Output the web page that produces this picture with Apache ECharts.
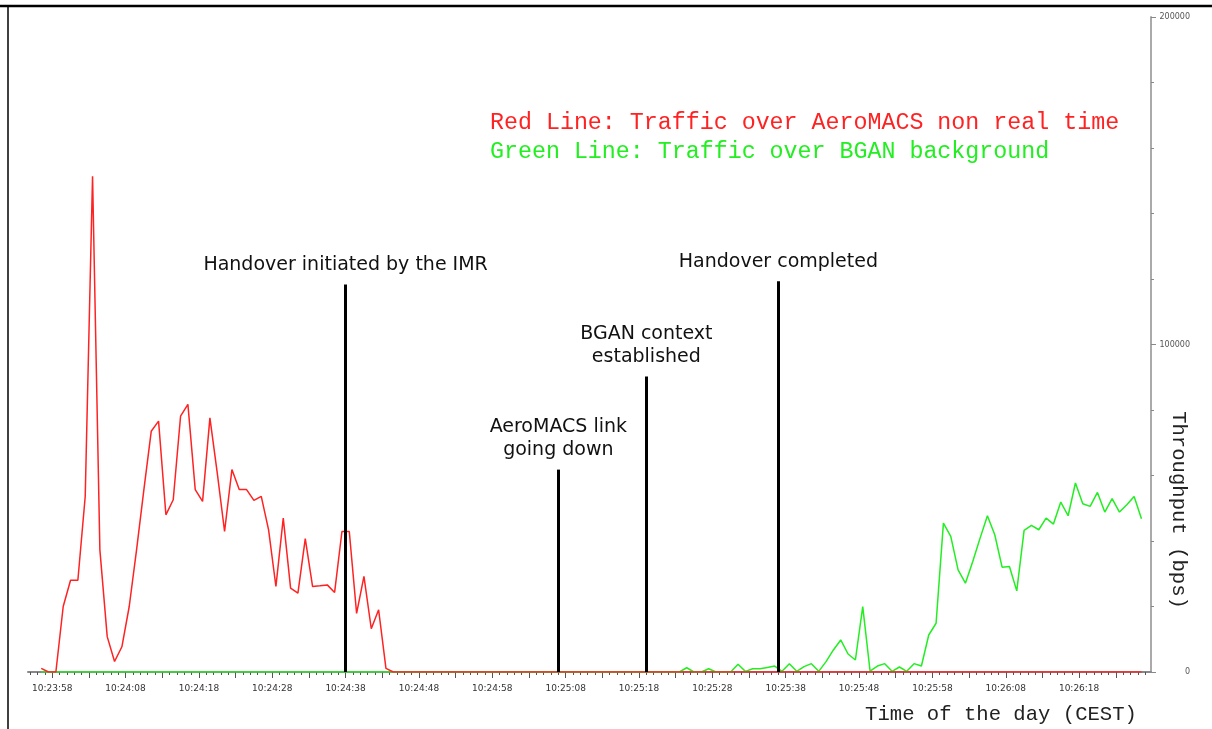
<!DOCTYPE html>
<html>
<head>
<meta charset="utf-8">
<title>Throughput during handover</title>
<style>
  html, body { margin: 0; padding: 0; background: #ffffff; }
  #chart { width: 1212px; height: 729px; }
</style>
<script src="https://cdn.jsdelivr.net/npm/echarts@6/dist/echarts.min.js"></script>
</head>
<body>
<div id="chart"></div>
<script>
// Temps en secondes depuis 10:23:58, un échantillon par seconde
const sampleStart = -1.5;

// AeroMACS non real time (bps)
const redValues = [
    1100, 0, 0, 20000, 28000, 28000, 53600, 151400, 37300, 10800,
    3200, 7700, 20000, 37300, 55700, 73500, 76600, 48000, 52600, 78100,
    81700, 55700, 52100, 77600, 60800, 42900, 61800, 55700, 55700, 52400,
    53600, 43400, 26100, 47000, 25600, 24100, 40700, 26100, 26300, 26600,
    24300, 42900, 42900, 17900, 29200, 13200, 19000, 1100, 0,
    0, 0, 0, 0, 0, 0, 0, 0, 0, 0, 0, 0, 0, 0, 0, 0, 0, 0, 0, 0,
    0, 0, 0, 0, 0, 0, 0, 0, 0, 0, 0, 0, 0, 0, 0, 0, 0, 0, 0, 0,
    0, 0, 0, 0, 0, 0, 0, 0, 0, 0, 0, 0, 0, 0, 0, 0, 0, 0, 0, 0,
    0, 0, 0, 0, 0, 0, 0, 0, 0, 0, 0, 0, 0, 0, 0, 0, 0, 0, 0, 0,
    0, 0, 0, 0, 0, 0, 0, 0, 0, 0, 0, 0, 0, 0, 0, 0, 0, 0, 0, 0,
    0, 0
];

// BGAN background (bps)
const greenValues = [
    0, 0, 0, 0, 0, 0, 0, 0, 0, 0, 0, 0, 0, 0, 0, 0, 0, 0, 0, 0,
    0, 0, 0, 0, 0, 0, 0, 0, 0, 0, 0, 0, 0, 0, 0, 0, 0, 0, 0, 0,
    0, 0, 0, 0, 0, 0, 0, 0, 0, 0, 0, 0, 0, 0, 0, 0, 0, 0, 0, 0,
    0, 0, 0, 0, 0, 0, 0, 0, 0, 0, 0, 0, 0, 0, 0, 0, 0, 0, 0, 0,
    0, 0, 0, 0, 0, 0, 0, 0,
    1300, 0, 0, 1000, 0, 0, 0, 2350, 200, 1000,
    1000, 1400, 1800, 200, 2550, 200, 1630, 2550, 200, 3160,
    6730, 9790, 5500, 3670, 19980, 300, 1830, 2550, 200, 1530,
    200, 2550, 1830, 11300, 14880, 45460, 41390, 31190, 27120, 33740,
    40880, 47710, 41900, 32010, 32210, 24770, 43220, 44750, 43430, 47000,
    45160, 51890, 47710, 57700, 51380, 50560, 54840, 48830, 52910, 48830,
    51070, 53620, 46790
];

// Étiquettes de l'axe des temps
const labelTimes = [0, 10, 20, 30, 40, 50, 60, 70, 80, 90, 100, 110, 120, 130, 140];
const labelTexts = ['10:23:58', '10:24:08', '10:24:18', '10:24:28', '10:24:38',
    '10:24:48', '10:24:58', '10:25:08', '10:25:18', '10:25:28',
    '10:25:38', '10:25:48', '10:25:58', '10:26:08', '10:26:18'];

// Événements (lignes verticales)
const eventTimes = [40, 69, 81, 99];
const eventTops = [118300, 61800, 90200, 119300];
const eventLabels = ['Handover initiated by the IMR', 'AeroMACS link\ngoing down',
    'BGAN context\nestablished', 'Handover completed'];

const legendTexts = ['Red Line: Traffic over AeroMACS non real time',
    'Green Line: Traffic over BGAN background'];

const xMin = -3.3, xMax = 149.8;

const majorTicks = [];
for (let t = 0; t <= xMax; t += 5) majorTicks.push(t);
const minorTicks = [];
for (let t = Math.ceil(xMin); t <= xMax; t++) minorTicks.push(t);

function toPairs(values) {
    return values.map((v, i) => [sampleStart + i, v]);
}

const annotationFont = {
    color: '#111',
    fontFamily: 'DejaVu Sans',
    fontSize: 19,
    lineHeight: 23
};

const chart = echarts.init(document.getElementById('chart'));
chart.setOption({
    animation: false,
    backgroundColor: '#ffffff',
    grid: {
        left: 28,
        right: 61,
        top: 17,
        bottom: 57,
        containLabel: false,
        outerBoundsMode: 'none'
    },
    xAxis: [{
        type: 'value',
        min: xMin,
        max: xMax,
        position: 'bottom',
        axisLine: { onZero: false, lineStyle: { color: '#888', width: 2 } },
        axisTick: { show: true, length: 6, customValues: majorTicks, lineStyle: { color: '#555' } },
        axisLabel: {
            customValues: labelTimes,
            margin: 12,
            color: '#333',
            fontSize: 9,
            fontFamily: 'DejaVu Sans',
            formatter: function (v) {
                const idx = labelTimes.indexOf(Math.round(v));
                return idx >= 0 ? labelTexts[idx] : '';
            }
        },
        splitLine: { show: false }
    }, {
        type: 'value',
        min: xMin,
        max: xMax,
        position: 'bottom',
        axisLine: { show: false, onZero: false },
        axisTick: { show: true, length: 3, customValues: minorTicks, lineStyle: { color: '#555' } },
        axisLabel: { show: false },
        splitLine: { show: false }
    }],
    yAxis: {
        type: 'value',
        position: 'right',
        min: 0,
        max: 200000,
        interval: 100000,
        axisLine: { show: true, onZero: false, lineStyle: { color: '#aaa', width: 2 } },
        axisTick: { show: true, length: 5, lineStyle: { color: '#888' } },
        minorTick: { show: true, splitNumber: 5, length: 3, lineStyle: { color: '#888' } },
        axisLabel: {
            align: 'right',
            margin: 39,
            color: '#555',
            fontSize: 8,
            fontFamily: 'DejaVu Sans',
            formatter: function (v) { return String(v); }
        },
        splitLine: { show: false }
    },
    series: [{
        name: 'BGAN background',
        type: 'line',
        data: toPairs(greenValues),
        showSymbol: false,
        lineStyle: { color: '#22ee22', width: 1.5 },
        itemStyle: { color: '#22ee22' },
        z: 2
    }, {
        name: 'AeroMACS non real time',
        type: 'line',
        data: toPairs(redValues),
        showSymbol: false,
        lineStyle: { color: '#ff2222', width: 1.5 },
        itemStyle: { color: '#ff2222' },
        z: 3,
        markLine: {
            silent: true,
            symbol: ['none', 'none'],
            lineStyle: { color: '#000', width: 3, type: 'solid' },
            label: Object.assign({ show: true, position: 'end', distance: 8, formatter: '{b}' }, annotationFont),
            data: eventTimes.map((t, i) => [
                { name: eventLabels[i], coord: [t, 0] },
                { coord: [t, eventTops[i]] }
            ])
        }
    }],
    graphic: [
        {
            type: 'text', left: 490, top: 111,
            style: { text: legendTexts[0], fill: '#ff2222', font: '23.3px "Liberation Mono", monospace' }
        },
        {
            type: 'text', left: 490, top: 140,
            style: { text: legendTexts[1], fill: '#22ee22', font: '23.3px "Liberation Mono", monospace' }
        },
        {
            type: 'text', x: 1001, y: 715,
            style: { text: 'Time of the day (CEST)', fill: '#222', font: '20.6px "Liberation Mono", monospace', textAlign: 'center', textVerticalAlign: 'middle' }
        },
        {
            type: 'text', x: 1178, y: 510, rotation: -Math.PI / 2,
            style: { text: 'Throughput (bps)', fill: '#222', font: '20.6px "Liberation Mono", monospace', textAlign: 'center', textVerticalAlign: 'middle' }
        },
        {
            type: 'line', shape: { x1: 0, y1: 6, x2: 1212, y2: 6 },
            style: { stroke: '#000', lineWidth: 2.5 }
        },
        {
            type: 'line', shape: { x1: 8, y1: 6, x2: 8, y2: 729 },
            style: { stroke: '#000', lineWidth: 1.5 }
        }
    ]
});
</script>
</body>
</html>
